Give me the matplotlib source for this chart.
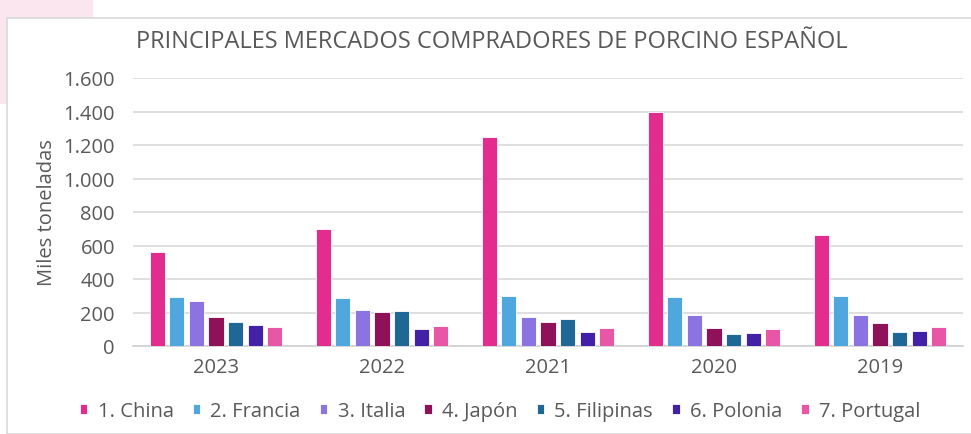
import matplotlib
matplotlib.use("Agg")
import matplotlib.pyplot as plt
from matplotlib.patches import Rectangle
import numpy as np

years = ["2023", "2022", "2021", "2020", "2019"]
series_names = ["1. China", "2. Francia", "3. Italia", "4. Japón",
                "5. Filipinas", "6. Polonia", "7. Portugal"]
china = [560, 698, 1250, 1396, 662]
francia = [292, 286, 296, 292, 296]
italia = [270, 212, 174, 184, 184]
japon = [174, 202, 144, 110, 138]
filipinas = [142, 208, 160, 72, 84]
polonia = [126, 104, 84, 78, 90]
portugal = [114, 120, 110, 104, 114]
colors = ["#E22D8F", "#4FA7DD", "#8B73E1", "#8F1157", "#1F6895", "#4321A6", "#E857A6"]

values = [china, francia, italia, japon, filipinas, polonia, portugal]

plt.rcParams["font.family"] = ["Open Sans", "DejaVu Sans"]
text_color = "#595959"

fig = plt.figure(figsize=(9.71, 4.35), dpi=100)
W, H = 971, 435

# background decoration
fig.patches.append(Rectangle((0, 1 - 105 / H), 93 / W, 105 / H, transform=fig.transFigure,
                             facecolor="#FBE5EE", edgecolor="none", zorder=0))
fig.patches.append(Rectangle((7 / W, 0), 1, 1 - 19 / H, transform=fig.transFigure,
                             facecolor="white", edgecolor="#D9D9D9", linewidth=1.2, zorder=1))

ax = fig.add_axes([133 / W, 1 - 347 / H, (963 - 133) / W, (347 - 79) / H])
ax.set_zorder(2)
ax.patch.set_alpha(0)

x = np.arange(len(years))
step = 0.118
width = 0.092
for i, (name, vals) in enumerate(zip(series_names, values)):
    ax.bar(x + (i - 3) * step, vals, width=width, color=colors[i],
           edgecolor="white", linewidth=0.6, label=name, zorder=3)

ax.set_xlim(-0.5, len(years) - 0.5)
ax.set_ylim(0, 1600)
ax.set_yticks(range(0, 1601, 200))
ax.set_yticklabels([f"{v:,}".replace(",", ".") for v in range(0, 1601, 200)])
ax.set_xticks(x)
ax.set_xticklabels(years)
ax.tick_params(axis="both", length=0, labelsize=14.5, colors=text_color)
ax.tick_params(axis="y", pad=13)
ax.tick_params(axis="x", pad=8)
ax.grid(axis="y", color="#D9D9D9", linewidth=1.2, zorder=0)
for s in ["top", "right", "left"]:
    ax.spines[s].set_visible(False)
ax.spines["bottom"].set_color("#D0D0D0")
ax.spines["bottom"].set_linewidth(1.2)

ax.set_ylabel("Miles toneladas", fontsize=14.5, color=text_color)
ax.yaxis.set_label_coords(-0.092, 0.5)
fig.text(0.507, 1 - 42 / H, "PRINCIPALES MERCADOS COMPRADORES DE PORCINO ESPAÑOL",
         ha="center", va="center", fontsize=17, color=text_color)

fig.legend(loc="center", bbox_to_anchor=(0.515, 1 - 412 / H), ncol=7, frameon=False,
           fontsize=14.5, handlelength=0.38, handleheight=0.38, handletextpad=0.5,
           columnspacing=0.95, labelcolor=text_color)

fig.savefig("out.png", dpi=100)
